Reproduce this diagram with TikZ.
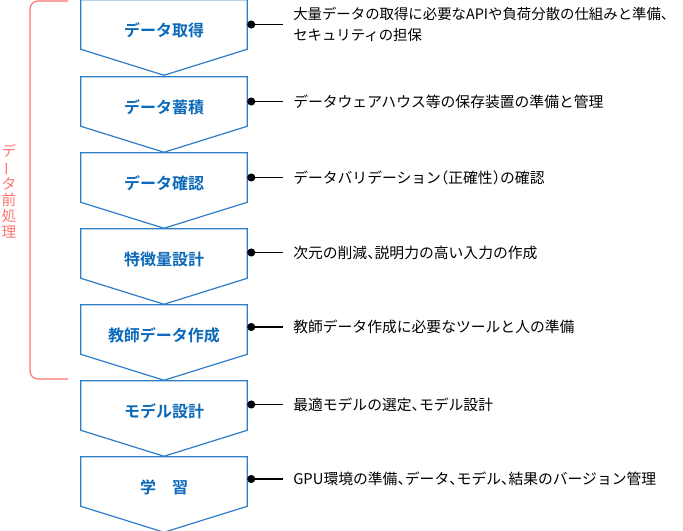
\documentclass[tikz,border=0pt]{standalone}
\usepackage{fontspec}
\setmainfont{Noto Sans CJK JP}[BoldFont={Noto Sans CJK JP Bold}]
\usepackage{graphicx}
\usetikzlibrary{arrows.meta}
\definecolor{stageblue}{RGB}{45,125,200}
\definecolor{stagetext}{RGB}{10,105,185}
\definecolor{prered}{RGB}{255,115,115}
% narrow punctuation
\newcommand{\jcomma}{\makebox[0.5em][l]{、}}
\newcommand{\jlpar}{\makebox[0.5em][r]{（}}
\newcommand{\jrpar}{\makebox[0.5em][l]{）}}
\tikzset{
  stage/.style={rectangle, minimum width=124.5pt, minimum height=36.75pt, inner sep=0pt,
    text height=17.5pt, text depth=0pt, font=\bfseries\fontsize{12}{14}\selectfont, text=stagetext},
  outline/.style={draw=stageblue, line width=0.9pt, line join=miter},
  desc/.style={anchor=west, inner sep=0pt, align=left, font=\fontsize{11.1}{15.8}\selectfont},
  lead/.style={{Circle[length=6pt]}-, line width=0.8pt, shorten >=7.5pt},
  bracket/.style={draw=prered, line width=0.9pt, rounded corners=6pt},
}

\begin{document}
\begin{tikzpicture}[x=0.75pt, y=-0.75pt]
    \useasboundingbox (0,0) rectangle (683,531);
    \node[stage] (s1) at (164,24.5) {データ取得};
    \node[stage] (s2) at (164,101.5) {データ蓄積};
    \node[stage] (s3) at (164,177.5) {データ確認};
    \node[stage] (s4) at (164,253.5) {特徴量設計};
    \node[stage] (s5) at (164,329.5) {教師データ作成};
    \node[stage] (s6) at (164,405.5) {モデル設計};
    \node[stage] (s7) at (164,481.5) {学　習};
    % chevron outlines
    \draw[outline] (s1.north west) -- (s1.north east) -- (s1.south east) -- ([yshift=-19.5pt]s1.south) -- (s1.south west) -- cycle;
    \draw[outline] (s2.north west) -- (s2.north east) -- (s2.south east) -- ([yshift=-19.5pt]s2.south) -- (s2.south west) -- cycle;
    \draw[outline] (s3.north west) -- (s3.north east) -- (s3.south east) -- ([yshift=-19.5pt]s3.south) -- (s3.south west) -- cycle;
    \draw[outline] (s4.north west) -- (s4.north east) -- (s4.south east) -- ([yshift=-19.5pt]s4.south) -- (s4.south west) -- cycle;
    \draw[outline] (s5.north west) -- (s5.north east) -- (s5.south east) -- ([yshift=-19.5pt]s5.south) -- (s5.south west) -- cycle;
    \draw[outline] (s6.north west) -- (s6.north east) -- (s6.south east) -- ([yshift=-19.5pt]s6.south) -- (s6.south west) -- cycle;
    \draw[outline] (s7.north west) -- (s7.north east) -- (s7.south east) -- ([yshift=-19.5pt]s7.south) -- (s7.south west) -- cycle;
    \node[desc, font=\fontsize{10.8}{15.8}\selectfont] (d1) at (293,24.5) {大量データの取得に必要なAPIや負荷分散の仕組みと準備\jcomma\\セキュリティの担保};
    \node[desc] (d2) at (293,101.5) {データウェアハウス等の保存装置の準備と管理};
    \node[desc] (d3) at (293,177.5) {データバリデーション\jlpar 正確性\jrpar の確認};
    \node[desc] (d4) at (293,252.5) {次元の削減\jcomma 説明力の高い入力の作成};
    \node[desc] (d5) at (293,327) {教師データ作成に必要なツールと人の準備};
    \node[desc] (d6) at (293,404.5) {最適モデルの選定\jcomma モデル設計};
    \node[desc] (d7) at (293,479) {GPU環境の準備\jcomma データ\jcomma モデル\jcomma 結果のバージョン管理};
    \draw[lead] (s1.east |- d1.west) -- (d1.west);
    \draw[lead] (s2.east |- d2.west) -- (d2.west);
    \draw[lead] (s3.east |- d3.west) -- (d3.west);
    \draw[lead] (s4.east |- d4.west) -- (d4.west);
    \draw[lead] (s5.east |- d5.west) -- (d5.west);
    \draw[lead] (s6.east |- d6.west) -- (d6.west);
    \draw[lead] (s7.east |- d7.west) -- (d7.west);
    % pre-processing bracket
    \draw[bracket] (68,1) -- (30,1) -- (30,379) -- (68,379);
    \node[text=prered, align=center, inner sep=0pt, font=\fontsize{11}{12}\selectfont] (pre) at (9,191)
      {デ\\\rotatebox[origin=c]{90}{ー}\\タ\\前\\処\\理};
\end{tikzpicture}
\end{document}
